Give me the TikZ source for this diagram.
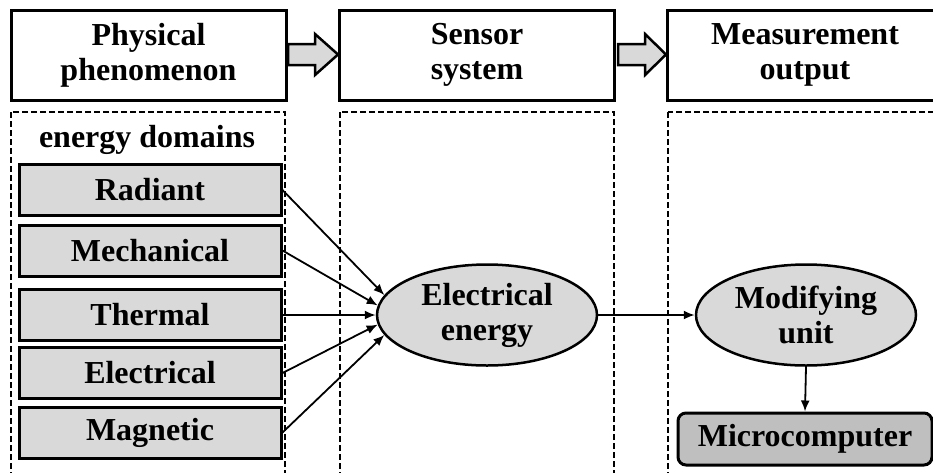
\documentclass[tikz,border=0pt]{standalone}
\usepackage{fontspec}
\setmainfont{Liberation Serif}
\usetikzlibrary{shapes.geometric,arrows.meta}
\definecolor{boxgray}{HTML}{D9D9D9}
\definecolor{compgray}{HTML}{BFBFBF}

\tikzset{
	stagebox/.style={draw, line width=3pt, minimum width=275pt, minimum height=90pt, align=center},
	zonebox/.style={draw, line width=1.8pt, dash pattern=on 6pt off 3pt},
	domainbox/.style={draw, fill=boxgray, line width=3pt, minimum width=262pt, minimum height=51pt},
	energyell/.style={draw, ellipse, fill=boxgray, line width=2.5pt, minimum width=220pt, minimum height=101pt, inner sep=0pt, align=center},
	fatarrow/.style={draw, fill=boxgray, line width=2.5pt, line join=miter},
	link/.style={line width=1.8pt, -{Latex[length=11pt,width=9pt]}}
}

\begin{document}
\begin{tikzpicture}[x=1pt, y=-1pt, font=\fontsize{32}{35}\selectfont\bfseries]
	\clip (0,0) rectangle (933,472);
	
	% Stage headers
	\node[stagebox] (phys) at (148.5,55) {Physical\\phenomenon};
	\node[stagebox] (sens) at (477,55) {Sensor\\system};
	\node[stagebox] (meas) at (805,55) {Measurement\\output};
	
	% Block arrows between stages
	\draw[fatarrow] (288,44) -- (315,44) -- (315,34) -- (338,54.5) -- (315,75) -- (315,65) -- (288,65) -- cycle;
	\draw[fatarrow] (618,44) -- (645,44) -- (645,34) -- (666,54.5) -- (645,75) -- (645,65) -- (618,65) -- cycle;
	
	% Dashed zones
	\draw[zonebox] (11,112) rectangle (285,490);
	\draw[zonebox] (340,112) rectangle (614,490);
	\draw[zonebox] (668,112) rectangle (945,490);
	
	% Energy domains
	\node (title) at (147,140) {energy domains};
	\node[domainbox] (rad) at (150,190) {Radiant};
	\node[domainbox] (mech) at (150,250.5) {Mechanical};
	\node[domainbox] (therm) at (150,315) {Thermal};
	\node[domainbox] (elec) at (150,373) {Electrical};
	\node[domainbox] (magn) at (150,432.5) {Magnetic};
	
	% Conversion and output
	\node[energyell] (ee) at (487,315) {Electrical\\energy};
	\node[energyell] (mu) at (806,315) {Modifying\\unit};
	\node[draw, fill=compgray, line width=3pt, rounded corners=8pt, minimum width=254pt, minimum height=52pt] (mc) at (805,439) {Microcomputer};
	
	% Connectors
	\draw[link] (rad.east) -- (ee.169);
	\draw[link] (mech.east) -- (ee.175);
	\draw[link] (therm.east) -- (ee.west);
	\draw[link] (elec.east) -- (ee.185);
	\draw[link] (magn.east) -- (ee.191);
	\draw[link] (ee.east) -- (mu.west);
	\draw[link] (mu.south) -- (mc.north);
\end{tikzpicture}
\end{document}
